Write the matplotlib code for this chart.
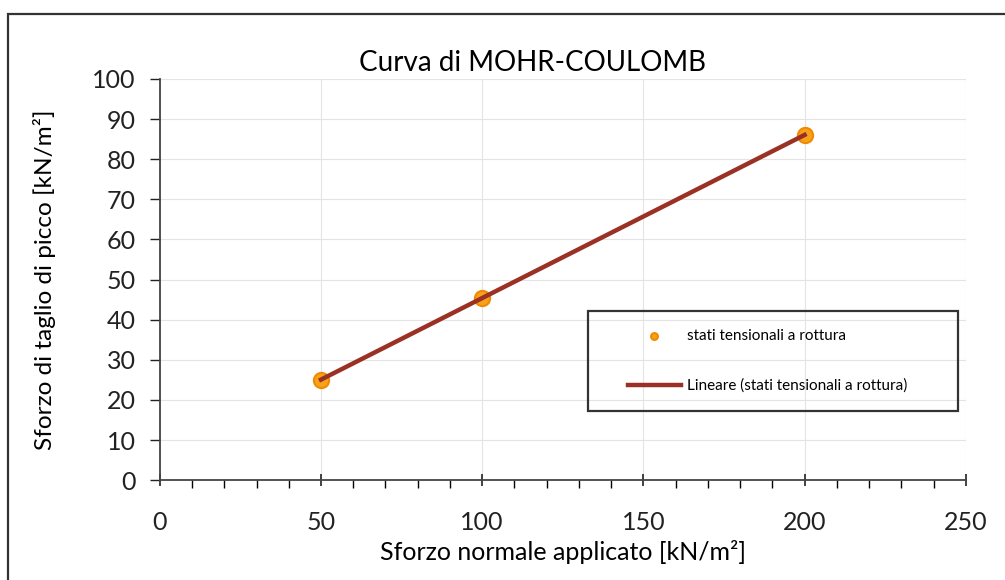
import numpy as np
import matplotlib.pyplot as plt
from matplotlib.patches import Rectangle
from matplotlib.ticker import MultipleLocator

# dati delle prove di taglio
sigma_n = [50, 100, 200]
tau_picco = [25, 45.5, 86]

plt.rcParams['font.family'] = ['Lato', 'DejaVu Sans']

fig = plt.figure(figsize=(10.05, 5.8), dpi=100)
fig.patches.append(Rectangle((0.008, -0.01), 1.1, 0.986, transform=fig.transFigure,
                             fill=False, edgecolor='#333333', linewidth=1.6))
ax = fig.add_axes([0.159, 0.172, 0.802, 0.692])

# retta di regressione lineare
m, q = np.polyfit(sigma_n, tau_picco, 1)
xl = np.array([min(sigma_n), max(sigma_n)])
ax.scatter(sigma_n, tau_picco, s=120, color='#f7a21b', edgecolor='#f08a00',
           linewidth=1.5, zorder=3, label='stati tensionali a rottura')
ax.plot(xl, m*xl + q, color='#9b3024', linewidth=3.2, zorder=4,
        label='Lineare (stati tensionali a rottura)')

ax.set_xlim(0, 250)
ax.set_ylim(0, 100)
ax.xaxis.set_major_locator(MultipleLocator(50))
ax.xaxis.set_minor_locator(MultipleLocator(10))
ax.yaxis.set_major_locator(MultipleLocator(10))
ax.grid(True, which='major', color='#e4e4e4', linewidth=0.8)
ax.set_axisbelow(True)
for s in ['top', 'right']:
    ax.spines[s].set_visible(False)
for s in ['left', 'bottom']:
    ax.spines[s].set_color('#444444')
    ax.spines[s].set_linewidth(1.3)
ax.tick_params(axis='both', labelsize=18, colors='#222222', direction='inout')
ax.tick_params(axis='x', which='major', length=9, width=1.2, pad=18)
ax.tick_params(axis='x', which='minor', length=6, width=1.0, direction='out')
ax.tick_params(axis='y', which='major', length=7, width=1.0, direction='out', pad=10.5)

ax.set_title('Curva di MOHR-COULOMB', fontsize=20, pad=6, x=0.463)
ax.set_xlabel('Sforzo normale applicato [kN/m²]', fontsize=18, labelpad=4)
ax.set_ylabel('Sforzo di taglio di picco [kN/m²]', fontsize=17.6, labelpad=26)

# riquadro della legenda
ax.add_patch(Rectangle((0.531, 0.172), 0.459, 0.249, transform=ax.transAxes,
                       fill=False, edgecolor='#333333', linewidth=1.6, zorder=5))
leg = ax.legend(loc='center left', bbox_to_anchor=(0.571, 0.297), fontsize=11,
                frameon=False, borderpad=0, labelspacing=2.35, handlelength=3.5,
                handletextpad=0.4, markerscale=0.45)

fig.savefig('out.png', dpi=100)
